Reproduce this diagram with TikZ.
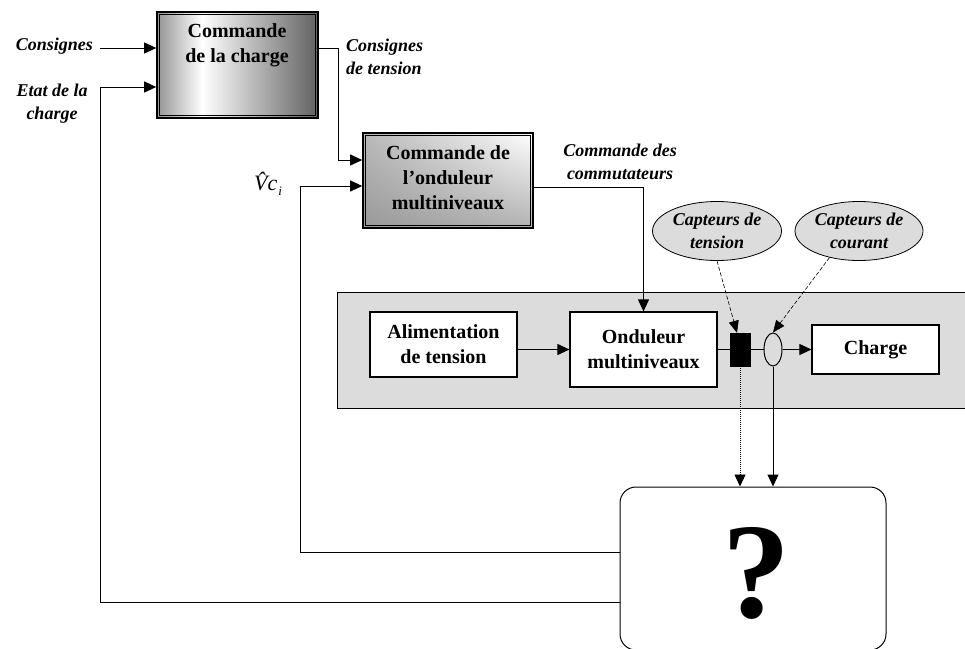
\documentclass[tikz,border=0pt]{standalone}
\usepackage{fontspec}
\setmainfont{Liberation Serif}
\usetikzlibrary{arrows.meta,shapes.geometric,calc,shadings}
\definecolor{bandgray}{RGB}{220,220,220}
\pgfdeclarehorizontalshading{boxoneshade}{100bp}{color(0bp)=(black!42); color(25bp)=(black!42); color(39bp)=(white); color(75bp)=(black!62); color(100bp)=(black!62)}
\tikzset{
  lbl/.style={font=\fontsize{18}{23}\selectfont\bfseries\itshape, align=center, inner sep=0pt},
  btxt/.style={font=\fontsize{20}{25}\selectfont\bfseries, align=center, inner sep=0pt},
  wbox/.style={draw, fill=white, line width=1.2pt, inner sep=0pt, font=\fontsize{20}{25}\selectfont\bfseries, align=center},
  cmdbox/.style={draw, line width=1.6pt, inner sep=0pt},
  innerframe/.style={line width=0.7pt},
  arr/.style={-{Triangle[length=12pt,width=11pt]}, line width=1pt},
  sensor/.style={ellipse, draw, fill=bandgray, line width=0.8pt, inner sep=0pt},
  dasharr/.style={-{Triangle[length=12pt,width=10pt]}, line width=0.6pt, dash pattern=on 4pt off 2pt},
  dotarr/.style={-{Triangle[length=12pt,width=11pt]}, line width=0.8pt, dash pattern=on 1pt off 1pt},
}
\begin{document}
\begin{tikzpicture}[x=1pt,y=-1pt]
\useasboundingbox (0,0) rectangle (965,648);
% gray band
\node[draw, fill=bandgray, line width=1pt, minimum width=650pt, minimum height=116pt, anchor=north west, inner sep=0pt] (band) at (337,292) {};
% command boxes
\node[cmdbox, shading=boxoneshade, minimum width=161pt, minimum height=106pt] (box1) at (237.5,65) {};
\draw[innerframe] ([xshift=3.5pt,yshift=-3.5pt]box1.north west) rectangle ([xshift=-3.5pt,yshift=3.5pt]box1.south east);
\node[btxt] (t1) at (237,45) {Commande\\de la charge};
\node[cmdbox, shade, upper right=white, upper left=black!28, lower left=black!40, lower right=black!30, minimum width=170pt, minimum height=95pt] (box2) at (448,180.5) {};
\draw[innerframe] ([xshift=3.5pt,yshift=-3.5pt]box2.north west) rectangle ([xshift=-3.5pt,yshift=3.5pt]box2.south east);
\node[btxt] (t2) at (448,178) {Commande de\\l’onduleur\\multiniveaux};
% power chain
\node[wbox, minimum width=147pt, minimum height=65pt] (alim) at (443.5,344.5) {Alimentation\\de tension};
\node[wbox, minimum width=147pt, minimum height=75pt] (ond) at (643.5,349.5) {Onduleur\\multiniveaux};
\node[draw, fill=black, minimum width=20pt, minimum height=33pt, inner sep=0pt] (vs) at (740,349.5) {};
\node[ellipse, draw, fill=bandgray, line width=1pt, minimum width=18pt, minimum height=33pt, inner sep=0pt] (cs) at (773,349.5) {};
\node[wbox, minimum width=127pt, minimum height=49pt] (charge) at (875.5,349.5) {Charge};
% sensors
\node[sensor, minimum width=129pt, minimum height=59pt] (st) at (717,231) {};
\node[lbl] (stt) at (717,231) {Capteurs de\\tension};
\node[sensor, minimum width=128pt, minimum height=59pt] (sc) at (859,231) {};
\node[lbl] (sct) at (859,231) {Capteurs de\\courant};
% estimator box
\node[draw, line width=1pt, rounded corners=16pt, minimum width=266pt, minimum height=163pt, inner sep=0pt] (qbox) at (753,568.5) {};
\node[font=\fontsize{136}{136}\selectfont\bfseries, inner sep=0pt] (qm) at (756,573) {?};
% labels
\node[lbl, anchor=east] (cons) at (93,46) {Consignes};
\node[lbl] (etat) at (52,104) {Etat de la\\charge};
\node[lbl, align=left, anchor=west] (ctens) at (346,57) {Consignes\\de tension};
\node[lbl] (ccom) at (620,162) {Commande des\\commutateurs};
\node[font=\fontsize{22}{24}\selectfont\itshape, inner sep=0pt, anchor=west] (vc) at (254,184) {\^{V}c\kern1pt\raisebox{-5pt}{\fontsize{13}{13}\selectfont i}};
% coordinates
\coordinate (consA) at (100,48);
\coordinate (etB) at (100,87);
\coordinate (ctB) at (338,160);
\coordinate (vcB) at (300,186);
% connectors
\draw[arr] (consA) -- (consA -| box1.west);
\draw[arr] ([yshift=-33.5pt]qbox.west) -| (etB) -- (etB -| box1.west);
\draw[arr] (consA -| box1.east) -| (ctB) -- (ctB -| box2.west);
\draw[arr] ([yshift=16.5pt]qbox.west) -| (vcB) -- (vcB -| box2.west);
\draw[arr] ([yshift=-6.5pt]box2.east) -| (ond.north);
\draw[arr] (alim.east |- ond.west) -- (ond.west);
\draw[line width=1pt] (ond.east) -- (vs.west);
\draw[line width=1pt] (vs.east) -- (cs.west);
\draw[arr] (cs.east) -- (charge.west);
\draw[dasharr] (st.south) -- ([xshift=-3pt]vs.north);
\draw[dasharr] (sc.222) -- (cs.north);
\draw[dotarr] (vs.south) -- (vs.south |- qbox.north);
\draw[arr] (cs.south) -- (cs.south |- qbox.north);
\end{tikzpicture}
\end{document}
